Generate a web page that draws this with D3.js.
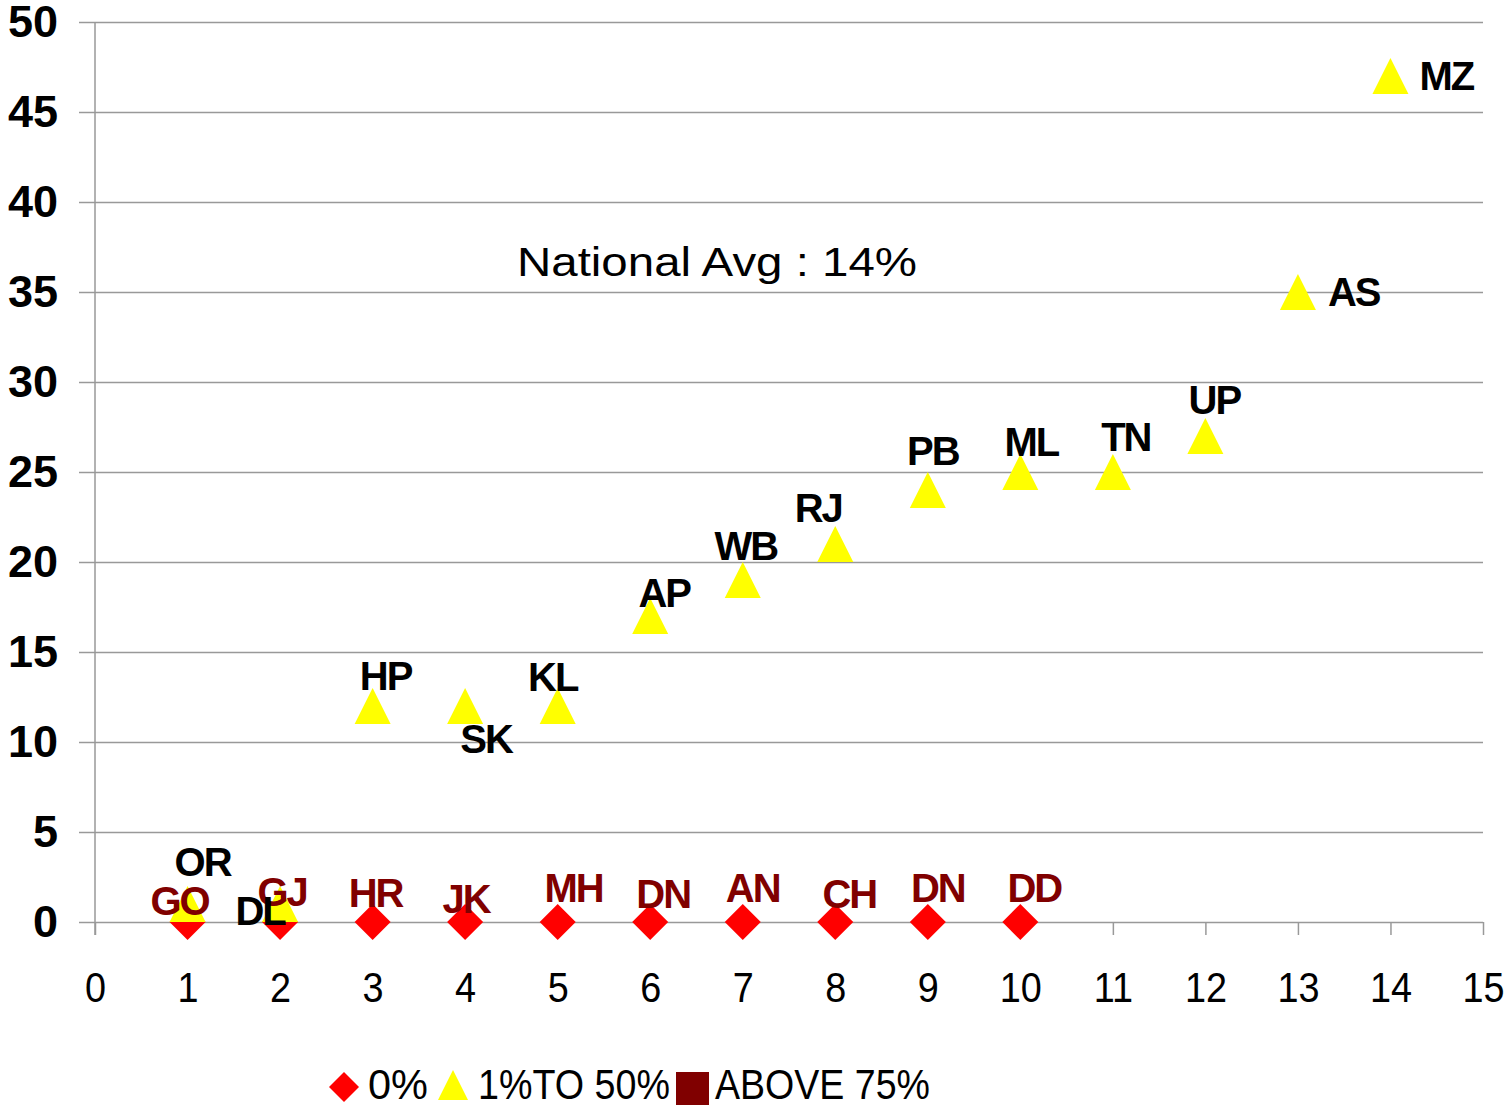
<!DOCTYPE html>
<meta charset="utf-8">
<style>
body { margin: 0; background: #fff; }
text { font-family: "Liberation Sans", Arial, sans-serif; }
.tick line { stroke: #999; stroke-width: 1.5; }
</style>
<script src="https://d3js.org/d3.v7.min.js"></script>
<div id="chart"></div>
<script>
// axis ticks
var xTicks = [0, 1, 2, 3, 4, 5, 6, 7, 8, 9, 10, 11, 12, 13, 14, 15];
var yTicks = [0, 5, 10, 15, 20, 25, 30, 35, 40, 45, 50];

// series "0%"
var zeroX = [1, 2, 3, 4, 5, 6, 7, 8, 9, 10];
var zeroY = [0, 0, 0, 0, 0, 0, 0, 0, 0, 0];
var zeroLabels = ["GO", "GJ", "HR", "JK", "MH", "DN", "AN", "CH", "DN", "DD"];

// series "1% TO 50%"
var midX = [1, 2, 3, 4, 5, 6, 7, 8, 9, 10, 11, 12, 13, 14];
var midY = [1, 1, 12, 12, 12, 17, 19, 21, 24, 25, 25, 27, 35, 47];
var midLabels = ["OR", "DL", "HP", "SK", "KL", "AP", "WB", "RJ", "PB", "ML", "TN", "UP", "AS", "MZ"];

var legendLabels = ["0%", "1%TO 50%", "ABOVE 75%"];
var note = "National Avg : 14%";

// label nudges (pixels) for each point's label
var zeroDx = [-8, 2, 3, 1, 16, 13, 10, 14, 10, 14];
var zeroDy = [-7, -16, -15, -9, -20, -14, -20, -14, -20, -20];
var midDx = [15, -20, 13, 21, -5, 14, 3, -17, 5, 11, 13, 9, 30, 29];
var midDy = [-28, 21, -16, 47, -15, -9, -20, -22, -25, -16, -21, -22, 14, 14];

var W = 1512, H = 1110;
var svg = d3.select("#chart").append("svg")
    .attr("width", W)
    .attr("height", H);

var x = d3.scaleLinear().domain([0, 15]).range([95, 1483]);
var y = d3.scaleLinear().domain([0, 50]).range([922, 22]);

// horizontal gridlines
svg.append("g")
    .attr("transform", "translate(95,0)")
    .call(d3.axisLeft(y).tickValues(yTicks).tickSize(-(x(15) - x(0))).tickFormat(""))
    .call(function(g) { g.select(".domain").remove(); });

// y axis (ticks sticking out left + bold labels)
var yAxis = svg.append("g")
    .attr("transform", "translate(95,0)")
    .call(d3.axisLeft(y).tickValues(yTicks).tickSize(16).tickPadding(21));
yAxis.select(".domain").remove();
yAxis.selectAll("text")
    .style("font-size", "45px")
    .style("font-weight", "bold")
    .attr("fill", "#000");

// vertical axis line
svg.append("line")
    .attr("x1", x(0)).attr("x2", x(0))
    .attr("y1", y(50)).attr("y2", y(0) + 13)
    .attr("stroke", "#999")
    .attr("stroke-width", 1.5);

// x axis
var xAxis = svg.append("g")
    .attr("transform", "translate(0," + y(0) + ")")
    .call(d3.axisBottom(x).tickValues(xTicks).tickSize(13).tickSizeOuter(0).tickPadding(37));
xAxis.select(".domain").remove();
xAxis.selectAll("text")
    .style("font-size", "42px")
    .attr("fill", "#000")
    .attr("transform", "scale(0.9,1)");

// markers
var diamond = "M0,-18L18,0L0,18L-18,0Z";
var triangle = "M0,-18L18,18L-18,18Z";

svg.append("g").selectAll("path")
    .data(zeroX)
    .enter().append("path")
    .attr("d", diamond)
    .attr("fill", "#ff0000")
    .attr("transform", function(d, i) { return "translate(" + x(d) + "," + y(zeroY[i]) + ")"; });

svg.append("g").selectAll("path")
    .data(midX)
    .enter().append("path")
    .attr("d", triangle)
    .attr("fill", "#ffff00")
    .attr("transform", function(d, i) { return "translate(" + x(d) + "," + y(midY[i]) + ")"; });

// data labels
svg.append("g").selectAll("text")
    .data(zeroLabels)
    .enter().append("text")
    .attr("x", function(d, i) { return x(zeroX[i]) + zeroDx[i]; })
    .attr("y", function(d, i) { return y(zeroY[i]) + zeroDy[i]; })
    .attr("text-anchor", "middle")
    .style("font-size", "40px")
    .style("font-weight", "bold")
    .style("letter-spacing", "-2px")
    .attr("fill", "#800000")
    .text(function(d) { return d; });

svg.append("g").selectAll("text")
    .data(midLabels)
    .enter().append("text")
    .attr("x", function(d, i) { return x(midX[i]) + midDx[i]; })
    .attr("y", function(d, i) { return y(midY[i]) + midDy[i]; })
    .attr("text-anchor", function(d, i) { return i >= 12 ? "start" : "middle"; })
    .style("font-size", "40px")
    .style("font-weight", "bold")
    .style("letter-spacing", "-2px")
    .attr("fill", "#000")
    .text(function(d) { return d; });

// note
svg.append("text")
    .attr("x", 517)
    .attr("y", 276)
    .attr("textLength", 400)
    .attr("lengthAdjust", "spacingAndGlyphs")
    .style("font-size", "41px")
    .attr("fill", "#000")
    .text(note);

// legend
var lg = svg.append("g");
lg.append("path").attr("d", "M0,-15L15,0L0,15L-15,0Z").attr("fill", "#ff0000")
    .attr("transform", "translate(344,1087)");
lg.append("path").attr("d", "M0,-15L15,15L-15,15Z").attr("fill", "#ffff00")
    .attr("transform", "translate(453,1085)");
lg.append("rect").attr("x", 676).attr("y", 1072).attr("width", 33).attr("height", 33)
    .attr("fill", "#800000");
var legendX = [368, 478, 715];
var legendW = [60, 192, 215];
lg.selectAll("text.leg")
    .data(legendLabels)
    .enter().append("text")
    .attr("class", "leg")
    .attr("x", function(d, i) { return legendX[i]; })
    .attr("y", 1099)
    .attr("textLength", function(d, i) { return legendW[i]; })
    .attr("lengthAdjust", "spacingAndGlyphs")
    .style("font-size", "43px")
    .attr("fill", "#000")
    .text(function(d) { return d; });
</script>
